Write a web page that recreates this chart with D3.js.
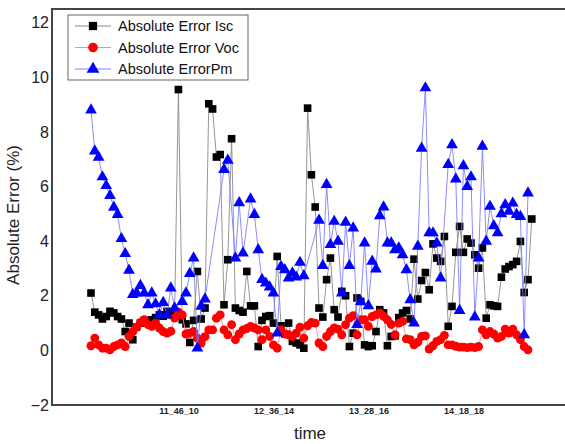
<!DOCTYPE html>
<html>
<head>
<meta charset="utf-8">
<script src="https://cdn.jsdelivr.net/npm/d3@7"></script>
<style>
  body { margin: 0; background: #fff; }
  svg { display: block; font-family: "Liberation Sans", Arial, sans-serif; }
</style>
</head>
<body>
<div id="chart"></div>
<script>
// values, one entry per sample (null = no point)
const isc = [2.1,1.4,1.3,1.15,1.24,1.43,1.37,1.24,1.15,0.69,1.0,0.39,0.85,1.0,1.1,1.05,1.12,1.2,1.3,1.25,
  1.43,1.3,1.35,9.55,1.12,0.97,0.29,1.1,2.89,1.15,1.55,9.03,8.84,7.08,7.17,1.67,3.32,7.75,1.55,1.46,
  1.4,2.89,1.63,1.63,0.14,1.1,1.24,1.27,1.0,3.44,0.9,0.6,1.0,0.33,0.27,0.2,0.08,8.87,6.43,5.25,
  1.55,1.22,2.59,3.38,1.49,1.22,2.16,2.0,0.14,0.63,1.92,1.79,0.2,0.14,0.17,0.69,1.49,1.37,0.17,0.51,
  0.53,1.2,1.37,1.46,1.15,3.34,1.88,2.56,2.85,2.22,3.9,3.38,3.26,4.17,0.88,1.61,3.59,4.54,3.59,4.08,
  3.93,3.5,3.01,3.75,1.18,1.67,1.63,1.61,2.68,2.98,3.07,3.14,3.26,3.99,2.12,2.59,4.81];

const voc = [0.17,0.45,0.2,0.08,0.08,0.02,0.14,0.2,0.27,0.14,0.51,0.69,0.85,1.02,1.12,0.94,0.88,1.0,0.82,0.69,
  0.63,0.7,1.18,1.4,1.3,0.6,0.63,0.69,0.45,0.27,0.5,0.75,0.75,1.18,1.3,0.75,0.57,0.94,0.39,0.6,
  0.75,0.8,0.88,0.82,0.75,0.39,0.75,0.51,0.2,0.08,0.75,0.6,0.57,0.51,0.63,0.85,0.45,0.9,1.02,1.0,
  0.27,0.14,0.51,0.69,0.82,0.78,0.57,0.94,1.18,1.27,0.57,1.12,1.12,0.88,1.24,1.3,1.37,1.25,1.12,0.95,
  0.57,1.0,1.06,0.42,0.39,0.2,0.3,0.51,0.53,0.05,0.17,0.33,0.39,0.55,0.2,0.2,0.15,0.12,0.12,0.1,
  0.12,0.1,0.14,0.75,0.57,0.69,0.6,0.45,0.51,0.78,0.63,0.78,0.57,0.39,0.14,0.02,null];

const pm = [8.8,7.3,7.07,6.35,6.03,5.67,5.24,4.97,4.09,3.54,2.93,2.04,2.1,2.37,2.1,1.67,2.1,1.7,1.3,1.75,
  1.3,2.28,1.55,null,1.79,2.1,2.81,3.38,0.08,1.61,1.88,null,null,null,null,6.62,6.96,null,3.38,5.4,
  3.56,null,5.54,4.97,3.68,2.59,2.46,2.32,2.1,0.63,3.07,2.95,2.65,2.83,2.68,3.22,2.73,null,null,null,
  4.76,3.1,6.07,3.87,4.72,3.99,2.1,4.69,3.1,4.48,0.94,1.79,3.93,1.63,3.26,2.98,4.93,5.25,3.93,3.93,
  3.68,3.75,3.5,2.95,1.85,1.0,3.81,7.4,9.61,4.3,4.3,3.93,2.65,null,6.8,7.53,6.27,1.46,6.76,6.0,
  6.35,1.22,3.38,7.47,3.99,5.27,4.56,4.3,5.0,5.33,5.09,5.39,4.97,4.9,0.57,5.76,null];

const tickIdx = [23, 48, 73, 98];
const tickLabels = ["11_46_10", "12_36_14", "13_28_16", "14_18_18"];
const yTicks = [-2, 0, 2, 4, 6, 8, 10, 12];

const seriesNames = ["Absolute Error Isc", "Absolute Error Voc", "Absolute ErrorPm"];

const W = 565, H = 444;
const plotLeft = 52, plotTop = 9, plotBottom = 405;

const svg = d3.select("#chart").append("svg")
  .attr("width", W).attr("height", H);

const x = d3.scaleLinear().domain([0, isc.length - 1]).range([91, 531.8]);
const y = d3.scaleLinear().domain([-2, 12.5]).range([plotBottom, plotTop]);

// series: data, marker, colour, line colour
const series = [
  { name: seriesNames[0], values: isc, symbol: d3.symbolSquare, size: 58, color: "#000", line: "#8a8a8a" },
  { name: seriesNames[1], values: voc, symbol: d3.symbolCircle, size: 62, color: "#ff0000", line: "#ff8a8a" },
  { name: seriesNames[2], values: pm, symbol: d3.symbolTriangle, size: 60, color: "#0000ff", line: "#7f7fff" }
];

const line = d3.line().x(d => x(d.i)).y(d => y(d.v));

series.forEach(s => {
  const pts = s.values.map((v, i) => ({ i, v })).filter(d => d.v !== null);
  svg.append("path")
    .attr("d", line(pts))
    .attr("fill", "none")
    .attr("stroke", s.line)
    .attr("stroke-width", 0.9);
  svg.append("g").selectAll("path")
    .data(pts)
    .join("path")
    .attr("d", d3.symbol(s.symbol, s.size))
    .attr("transform", d => `translate(${x(d.i)},${y(d.v)})`)
    .attr("fill", s.color);
});

// axes
const yAxis = svg.append("g")
  .attr("transform", `translate(${plotLeft},0)`)
  .call(d3.axisLeft(y).tickValues(yTicks).tickSize(0).tickPadding(3));
yAxis.select(".domain").remove();
yAxis.selectAll("text").attr("font-size", 16).attr("fill", "#222").attr("font-family", "Liberation Sans, Arial");

const xAxis = svg.append("g")
  .attr("transform", `translate(0,${plotBottom})`)
  .call(d3.axisBottom(x).tickValues(tickIdx).tickFormat((d, i) => tickLabels[i]).tickSize(0).tickPadding(3));
xAxis.select(".domain").remove();
xAxis.selectAll("text").attr("font-size", 9).attr("font-weight", "bold").attr("fill", "#222")
  .attr("font-family", "Liberation Sans, Arial");

// frame lines (left, top, bottom)
svg.append("path")
  .attr("d", `M${W},${plotTop}H${plotLeft}V${plotBottom}H${W}`)
  .attr("fill", "none")
  .attr("stroke", "#444")
  .attr("stroke-width", 2);

// axis titles
svg.append("text")
  .attr("transform", `translate(19,${(plotTop + plotBottom) / 2 + 8}) rotate(-90)`)
  .attr("text-anchor", "middle")
  .attr("font-size", 17)
  .attr("fill", "#222")
  .text("Absolute Error (%)");

svg.append("text")
  .attr("x", 310).attr("y", 439)
  .attr("text-anchor", "middle")
  .attr("font-size", 17)
  .attr("fill", "#222")
  .text("time");

// legend
const lg = svg.append("g").attr("transform", "translate(68,15)");
lg.append("rect")
  .attr("width", 180).attr("height", 65)
  .attr("fill", "#fff")
  .attr("stroke", "#666")
  .attr("stroke-width", 1);
series.forEach((s, k) => {
  const ry = 11 + k * 21.5;
  lg.append("line")
    .attr("x1", 7).attr("x2", 43).attr("y1", ry).attr("y2", ry)
    .attr("stroke", s.line).attr("stroke-width", 1);
  lg.append("path")
    .attr("d", d3.symbol(s.symbol, s.size + 10))
    .attr("transform", `translate(25,${ry})`)
    .attr("fill", s.color);
  lg.append("text")
    .attr("x", 50).attr("y", ry + 5)
    .attr("font-size", 14.5)
    .attr("fill", "#111")
    .text(s.name);
});
</script>
</body>
</html>
